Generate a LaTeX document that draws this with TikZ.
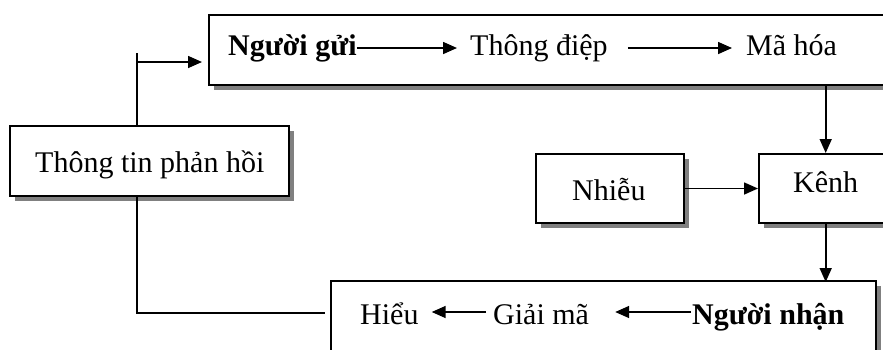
\documentclass[tikz,border=0pt]{standalone}
\usepackage{fontspec}
\setmainfont{Liberation Serif}
\usetikzlibrary{arrows.meta, shadows, positioning}

\begin{document}
\begin{tikzpicture}[
    x=1pt, y=-1pt,
    box/.style={rectangle, draw=black, line width=2pt, fill=white, inner sep=0pt, anchor=north west,
        drop shadow={opacity=1, fill=black!50, shadow xshift=5pt, shadow yshift=-5pt}},
    txt/.style={inner sep=0pt, anchor=base west, font=\fontsize{30pt}{36pt}\selectfont, text height=21pt, text depth=7pt},
    bold/.style={txt, font=\fontsize{30pt}{36pt}\selectfont\bfseries},
    arrow/.style={-{Triangle[length=14pt, width=12pt]}, line width=1.6pt},
    wire/.style={line width=1.6pt}
]
    \useasboundingbox (0,0) rectangle (883,349);

    % Boxes
    \node[box, minimum width=700pt, minimum height=70pt] (sendbox) at (208,14) {};
    \node[box, minimum width=279pt, minimum height=70pt] (fbbox) at (9,125) {};
    \node[box, minimum width=148pt, minimum height=69pt] (noisebox) at (535,153) {};
    \node[box, minimum width=160pt, minimum height=69pt] (chanbox) at (758,153) {};
    \node[box, minimum width=545pt, minimum height=100pt] (recvbox) at (330,280) {};

    % Sender row
    \node[bold] (sender) at (228,55) {Người gửi};
    \node[txt] (msg) at (470,55) {Thông điệp};
    \node[txt] (encode) at (746,55) {Mã hóa};

    % Feedback, noise, channel
    \node[txt] (feedback) at (35,172) {Thông tin phản hồi};
    \node[txt] (noise) at (572,200) {Nhiễu};
    \node[txt] (channel) at (793,192) {Kênh};

    % Receiver row
    \node[txt] (understand) at (360,324) {Hiểu};
    \node[txt] (decode) at (493,324) {Giải mã};
    \node[bold] (receiver) at (692,324) {Người nhận};

    % Arrows along the top
    \draw[arrow, shorten >=13pt] (sender.east) -- (msg.west);
    \draw[arrow, shorten <=20pt, shorten >=14pt] (msg.east) -- (encode.west);

    % Down through the channel
    \draw[arrow] (sendbox.south -| channel) -- (chanbox.north -| channel);
    \draw[arrow] (noisebox.east) -- (noisebox.east -| chanbox.west);
    \draw[arrow, shorten >=-2pt] (chanbox.south -| channel) -- (recvbox.north -| channel);

    % Arrows along the bottom
    \draw[arrow, shorten <=1pt, shorten >=26pt] ([yshift=5pt]receiver.west) -- ([yshift=5pt]decode.east);
    \draw[arrow, shorten <=7pt, shorten >=13pt] ([yshift=5pt]decode.west) -- ([yshift=5pt]understand.east);

    % Feedback loop
    \coordinate (fbtop) at (137,53);
    \coordinate (fbturn) at (137,62);
    \coordinate (fbbot) at (137,313);
    \draw[wire] (fbbox.north -| fbtop) -- (fbtop);
    \draw[arrow, shorten >=6pt] (fbturn) -- (fbturn -| sendbox.west);
    \draw[wire, shorten >=5pt] (fbbox.south -| fbbot) -- (fbbot) -- (fbbot -| recvbox.west);
\end{tikzpicture}
\end{document}
